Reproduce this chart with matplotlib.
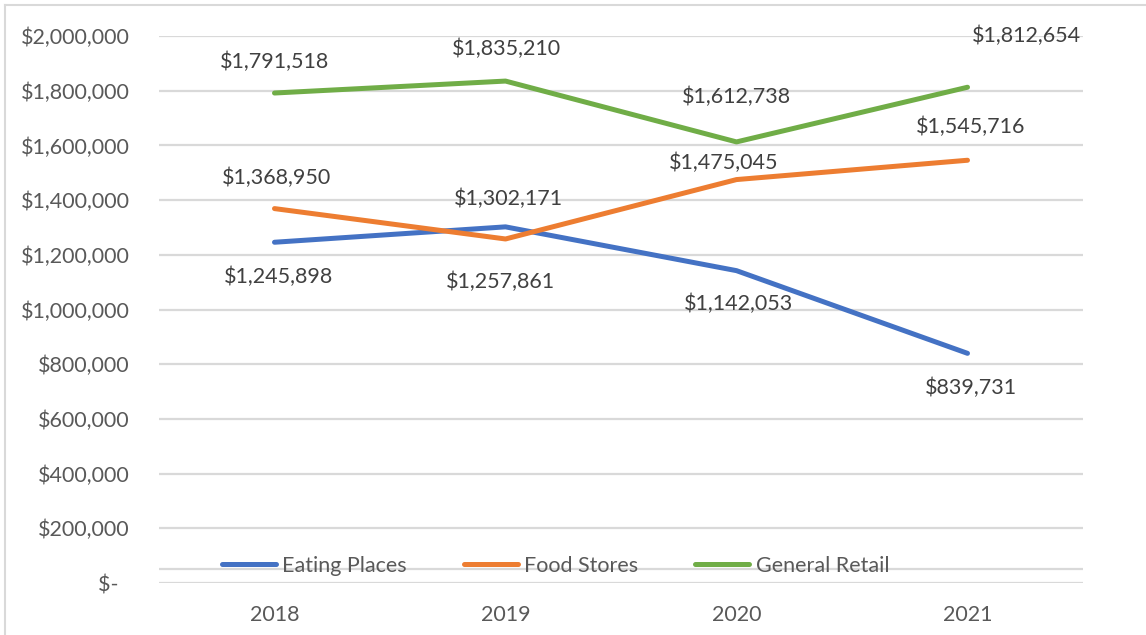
import matplotlib
matplotlib.use("Agg")
import matplotlib.pyplot as plt
from matplotlib.lines import Line2D

plt.rcParams['font.family'] = ['Lato', 'DejaVu Sans']

years = ["2018", "2019", "2020", "2021"]
eating_places = [1245898, 1302171, 1142053, 839731]
food_stores = [1368950, 1257861, 1475045, 1545716]
general_retail = [1791518, 1835210, 1612738, 1812654]
y_ticks = [0, 200000, 400000, 600000, 800000, 1000000, 1200000,
           1400000, 1600000, 1800000, 2000000]

series = [
    ("Eating Places", eating_places, "#4472C4"),
    ("Food Stores", food_stores, "#ED7D31"),
    ("General Retail", general_retail, "#70AD47"),
]
# label offsets in pixels (dx, dy; positive dy = up)
label_offsets = {
    "Eating Places": [(4, -35), (3, 28), (2, -33), (3, -35)],
    "Food Stores": [(2, 31), (-5, -43), (-13, 17), (3, 33)],
    "General Retail": [(0, 31), (1, 32), (0, 45), (59, 51)],
}

W, H = 1146, 635
fig = plt.figure(figsize=(W / 100, H / 100), dpi=100)
ax = fig.add_axes([159 / W, 1 - 583 / H, (1083 - 159) / W, (583 - 36) / H])

x = list(range(len(years)))
grid_c = "#d9d9d9"
for t in y_ticks:
    ax.axhline(t, color=grid_c, lw=1.6, zorder=0)
ax.axhline(51000, color=grid_c, lw=1.6, zorder=0)

px2pt = 0.72
fs = 15.5
for name, vals, col in series:
    ax.plot(x, vals, color=col, lw=3.6, solid_capstyle="round",
            solid_joinstyle="round", label=name, clip_on=False, zorder=3)
    for i, v in enumerate(vals):
        dx, dy = label_offsets[name][i]
        ax.annotate(f"${v:,.0f}", (x[i], v), xytext=(dx * px2pt, dy * px2pt),
                    textcoords="offset points", ha="center", va="center",
                    fontsize=fs, color="#404040", zorder=4)

ax.set_xlim(-0.5, 3.5)
ax.set_ylim(0, 2000000)
ax.set_xticks(x)
ax.set_xticklabels(years)
ax.set_yticks(y_ticks)
ax.set_yticklabels(["$-  "] + [f"${t:,.0f}" for t in y_ticks[1:]])
ax.tick_params(axis="both", length=0, labelsize=fs, labelcolor="#595959")
ax.tick_params(axis="y", pad=21)
ax.tick_params(axis="x", pad=16)
for s in ax.spines.values():
    s.set_visible(False)

leg = ax.legend(loc="center left", bbox_to_anchor=((222 - 159) / (1083 - 159), (583 - 566) / 547),
                ncol=3, frameon=False, fontsize=fs, handlelength=2.5,
                handletextpad=0.3, columnspacing=2.65, borderpad=0, borderaxespad=0)
for t in leg.get_texts():
    t.set_color("#595959")
for h in leg.get_lines():
    h.set_linewidth(3.6)
    h.set_solid_capstyle("round")

# outer chart border (left and top visible)
fig.add_artist(Line2D([5 / W, 5 / W], [0, 1 - 5 / H], transform=fig.transFigure,
                      color=grid_c, lw=1.5))
fig.add_artist(Line2D([5 / W, 1], [1 - 5 / H, 1 - 5 / H], transform=fig.transFigure,
                      color=grid_c, lw=1.5))

fig.savefig("out.png", dpi=100)
